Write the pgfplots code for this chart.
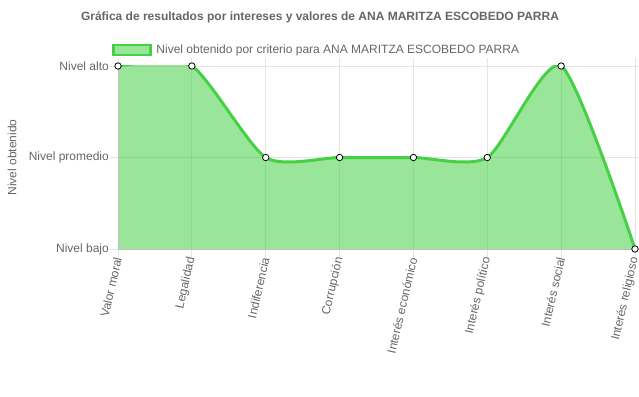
\documentclass[border=0pt]{standalone}
\usepackage{pgfplots}
\pgfplotsset{compat=1.18}
\usepackage{fontspec}
\setmainfont{Liberation Sans}
\definecolor{txtgray}{HTML}{666666}
\definecolor{gridgray}{HTML}{E5E5E5}
\definecolor{axgray}{HTML}{BFBFBF}
\definecolor{fillgreen}{RGB}{51,204,51}
\definecolor{linegreen}{RGB}{70,208,70}
\definecolor{legfill}{RGB}{153,230,153}
\pgfplotstableread{
x y
0 2
1 2
2 1
3 1
4 1
5 1
6 2
7 0
}\datatable
\begin{document}
\begin{tikzpicture}[x=1bp,y=1bp]
\path[use as bounding box] (0,0) rectangle (639,396);
\node[font=\fontsize{12bp}{14bp}\selectfont\bfseries, text=txtgray] at (320,379) {Gráfica de resultados por intereses y valores de ANA MARITZA ESCOBEDO PARRA};
\begin{axis}[
  at={(118bp,147bp)}, anchor=south west,
  scale only axis, width=517bp, height=183bp,
  xmin=0, xmax=7, ymin=0, ymax=2,
  xtick={0,...,7},
  xticklabels={Valor moral,Legalidad,Indiferencia,Corrupción,Interés económico,Interés político,Interés social,Interés religioso},
  ytick={0,1,2},
  yticklabels={Nivel bajo,Nivel promedio,Nivel alto},
  grid=major,
  major grid style={draw=gridgray, line width=0.8bp},
  axis line style={draw=gridgray, line width=0.8bp},
  tick align=outside,
  major tick length=8bp,
  tick style={draw=gridgray, line width=0.8bp},
  every tick label/.append style={font=\fontsize{12bp}{14bp}\selectfont, text=txtgray},
  xticklabel style={rotate=77, anchor=east, inner sep=0.5bp},
  yticklabel style={anchor=east, inner sep=1bp},
  ylabel={Nivel obtenido},
  ylabel style={font=\fontsize{12bp}{14bp}\selectfont, text=txtgray, at={(axis description cs:-0.205,0.5)}, anchor=center},
  legend style={draw=none, fill=none, at={(0.384,1.087)}, anchor=center, font=\fontsize{12bp}{14bp}\selectfont, text=txtgray, inner sep=0pt, legend cell align=left},
]
\addplot[draw=none, fill=fillgreen, fill opacity=0.5, smooth, tension=0.4, forget plot] table[x=x,y=y] {\datatable} \closedcycle;
\draw[axgray, line width=0.8bp] (axis cs:0,0) -- (axis cs:0,2);
\draw[axgray, line width=0.8bp] (axis cs:0,0) -- (axis cs:7,0);
\addplot[linegreen, line width=3bp, smooth, tension=0.4, mark=*, mark size=3.2bp, mark options={fill=white, draw=black, line width=0.8bp}, forget plot] table[x=x,y=y] {\datatable};
\addlegendimage{legend image code/.code={\draw[line width=2.5bp, draw=linegreen, fill=legfill] (0bp,-5bp) rectangle (37bp,5bp); \path (41bp,0bp);}}
\addlegendentry{Nivel obtenido por criterio para ANA MARITZA ESCOBEDO PARRA}
\end{axis}
\end{tikzpicture}
\end{document}
